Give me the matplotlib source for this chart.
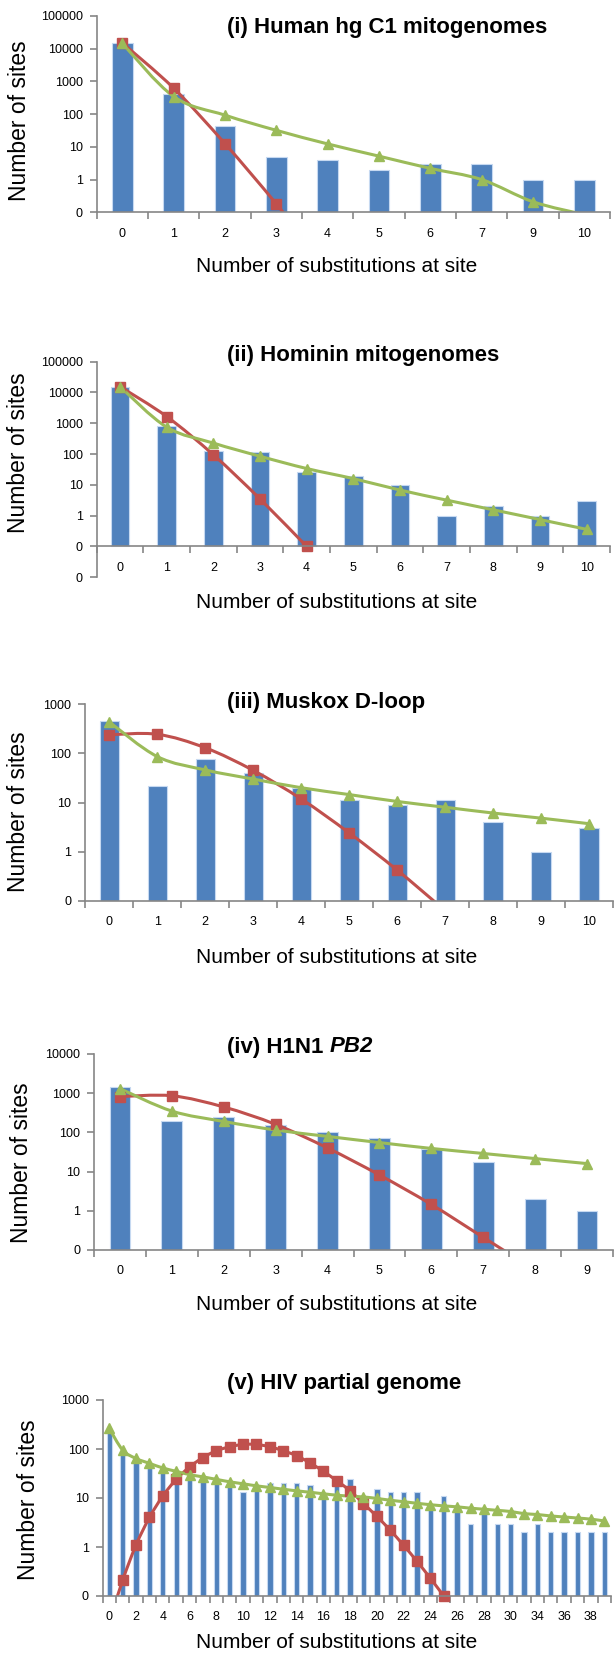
import matplotlib
matplotlib.use('Agg')
import matplotlib.pyplot as plt
from matplotlib.path import Path
from matplotlib.patches import PathPatch
from matplotlib.ticker import FixedLocator
import numpy as np

plt.rcParams['font.family'] = ['Liberation Sans', 'DejaVu Sans']

# (i) Human hg C1 mitogenomes
i_cats = ['0', '1', '2', '3', '4', '5', '6', '7', '9', '10']
i_obs = [14500, 400, 44, 5, 4, 2, 3, 3, 1, 1]
i_pois = [15000, 620, 12.5, 0.18, 0.002]
i_nb = [14500, 345, 93, 32, 12.3, 5.2, 2.2, 1.0, 0.21, 0.085]

# (ii) Hominin mitogenomes
ii_cats = [str(k) for k in range(11)]
ii_obs = [15500, 830, 125, 120, 26, 19, 10, 1, 2, 1, 3]
ii_pois = [15500, 1660, 95, 3.5, 0.1]
ii_nb = [15500, 750, 228, 85, 34, 16, 6.8, 3.2, 1.55, 0.75, 0.36]

# (iii) Muskox D-loop
iii_cats = [str(k) for k in range(11)]
iii_obs = [465, 22, 78, 40, 20, 11, 9, 11, 4, 1, 3]
iii_pois = [240, 245, 130, 45, 11.8, 2.4, 0.42, 0.062, 0.008, 0.0009, 0.0001]
iii_nb = [435, 86, 46, 30, 20, 14.5, 10.5, 8, 6.1, 4.8, 3.7]

# (iv) H1N1 PB2
iv_cats = [str(k) for k in range(10)]
iv_obs = [1450, 200, 240, 158, 100, 70, 38, 18, 2, 1]
iv_pois = [820, 860, 445, 160, 40, 8.2, 1.45, 0.21, 0.03, 0.0035]
iv_nb = [1310, 350, 190, 115, 79, 55, 39, 29, 21.5, 16]

# (v) HIV partial genome
v_cats = [str(k) for k in list(range(31)) + [32, 34, 35, 36, 37, 38, 39]]
v_obs = [225, 81, 55, 40, 34, 28, 25, 23, 20, 18,
         13, 15, 20, 20, 20, 18, 10, 18, 24, 10,
         15, 13, 13, 13, 6, 11, 6, 3, 5, 3,
         3, 2, 3, 2, 2, 2, 2, 2]
v_pois = [0.03, 0.21, 1.1, 4.0, 11, 24, 43, 67, 92, 111,
          124, 124, 111, 92, 73, 52, 35, 22.5, 14, 7.7,
          4.2, 2.2, 1.08, 0.51, 0.23, 0.1]
v_nb = [263, 95, 64, 51, 41, 35, 30, 27, 24, 21.4,
        19.5, 17.7, 16.4, 15.1, 14, 13.1, 12.2, 11.4, 10.9, 10.5,
        9.8, 9.0, 8.4, 7.8, 7.3, 6.9, 6.6, 6.2, 5.9, 5.6,
        5.3, 4.8, 4.6, 4.3, 4.1, 3.9, 3.7, 3.4]

BLUE = '#4F81BD'
RED = '#C0504D'
GREEN = '#9BBB59'
GREY = '#868686'

W, H = 614, 1655
fig = plt.figure(figsize=(W / 100, H / 100), dpi=100)


def smooth_line(ax, vals, color):
    # excel style smoothed line: bezier through the points, in log space
    x = np.arange(len(vals), dtype=float)
    ly = np.log10(vals)
    pts = np.column_stack([x, ly])
    p = np.vstack([pts[0], pts, pts[-1]])
    verts = [pts[0]]
    codes = [Path.MOVETO]
    for k in range(len(pts) - 1):
        c1 = p[k + 1] + (p[k + 2] - p[k]) / 6
        c2 = p[k + 2] - (p[k + 3] - p[k + 1]) / 6
        verts += [c1, c2, p[k + 2]]
        codes += [Path.CURVE4] * 3
    verts = np.array(verts)
    verts[:, 1] = 10 ** verts[:, 1]
    ax.add_patch(PathPatch(Path(verts, codes), fill=False, edgecolor=color,
                           lw=2.2, capstyle='round', joinstyle='round', zorder=3))


def panel(box, cats, obs, pois, nb, ymin, ymax, cross, title, title_y,
          ylab_xy, xlab_y, label_step=1):
    l, r, t, b = box
    ax = fig.add_axes([l / W, 1 - b / H, (r - l) / W, (b - t) / H])
    ax.set_yscale('log')
    n = len(cats)
    x = np.arange(n)
    ax.bar(x, np.array(obs, dtype=float) - cross, bottom=cross, width=0.4,
           color=BLUE, edgecolor='#C6D9F1', linewidth=0.8, zorder=2)
    for vals, col, mk, ms in [(pois, RED, 's', 6.5), (nb, GREEN, '^', 7.5)]:
        smooth_line(ax, vals, col)
        v = np.array(vals, dtype=float)
        v = np.where(v >= cross * 0.999, v, np.nan)
        ax.plot(np.arange(len(vals)), v, ls='none', marker=mk, ms=ms,
                color=col, mec=col, clip_on=False, zorder=4)
    ax.set_xlim(-0.5, n - 0.5)
    ax.set_ylim(ymin, ymax)
    for s in ['top', 'right']:
        ax.spines[s].set_visible(False)
    for s in ['left', 'bottom']:
        ax.spines[s].set_color(GREY)
        ax.spines[s].set_linewidth(1.2)
    ax.spines['bottom'].set_position(('data', cross))
    ax.spines['bottom'].set_zorder(5)

    yt = [10.0 ** e for e in range(int(round(np.log10(ymin))), int(round(np.log10(ymax))) + 1)]
    ax.yaxis.set_major_locator(FixedLocator(yt))
    ax.yaxis.set_minor_locator(FixedLocator([]))
    ax.set_yticklabels(['0' if v < 1 else str(int(v)) for v in yt])
    ax.tick_params(axis='y', which='major', direction='out', length=5,
                   width=1.2, color=GREY, labelsize=9, pad=5)

    ax.xaxis.set_major_locator(FixedLocator(x[::label_step]))
    ax.set_xticklabels(cats[::label_step])
    ax.xaxis.set_minor_locator(FixedLocator(np.arange(n + 1) - 0.5))
    ax.tick_params(axis='x', which='major', length=0, labelsize=9, pad=11)
    ax.tick_params(axis='x', which='minor', direction='out', length=5,
                   width=1.2, color=GREY)

    # title, axis labels placed in pixel positions
    if isinstance(title, tuple):
        t1 = fig.text(227 / W, 1 - title_y / H, title[0], fontsize=16,
                      fontweight='bold', ha='left', va='center')
        fig.texts.append(plt.Annotation(title[1], xy=(1, 0), xycoords=t1,
                                        fontsize=16, fontweight='bold',
                                        fontstyle='italic', ha='left', va='bottom'))
        fig.texts[-1].set_figure(fig)
    else:
        fig.text(227 / W, 1 - title_y / H, title, fontsize=16,
                 fontweight='bold', ha='left', va='center')
    fig.text(ylab_xy[0] / W, 1 - ylab_xy[1] / H, 'Number of sites',
             fontsize=16.5, rotation=90, ha='center', va='center')
    fig.text(336.5 / W, 1 - xlab_y / H, 'Number of substitutions at site',
             fontsize=15, ha='center', va='center')
    return ax


panel((96.7, 610, 16, 212.3), i_cats, i_obs, i_pois, i_nb, 0.1, 1e5, 0.1,
      '(i) Human hg C1 mitogenomes', 28, (19.6, 121), 267)
panel((96.7, 610, 361.7, 577.3), ii_cats, ii_obs, ii_pois, ii_nb, 0.01, 1e5, 0.1,
      '(ii) Hominin mitogenomes', 355, (18.4, 453), 602.7)
panel((85.4, 613, 704.3, 900.7), iii_cats, iii_obs, iii_pois, iii_nb, 0.1, 1e3, 0.1,
      '(iii) Muskox D-loop', 702.7, (18.8, 811.7), 957.7)
panel((94, 613, 1054, 1250), iv_cats, iv_obs, iv_pois, iv_nb, 0.1, 1e4, 0.1,
      ('(iv) H1N1 ', 'PB2'), 1047, (21.5, 1162.8), 1305)
panel((102.6, 611, 1400, 1596), v_cats, v_obs, v_pois, v_nb, 0.1, 1e3, 0.1,
      '(v) HIV partial genome', 1383, (28.2, 1500), 1643, label_step=2)

fig.savefig('out.png', dpi=100)
